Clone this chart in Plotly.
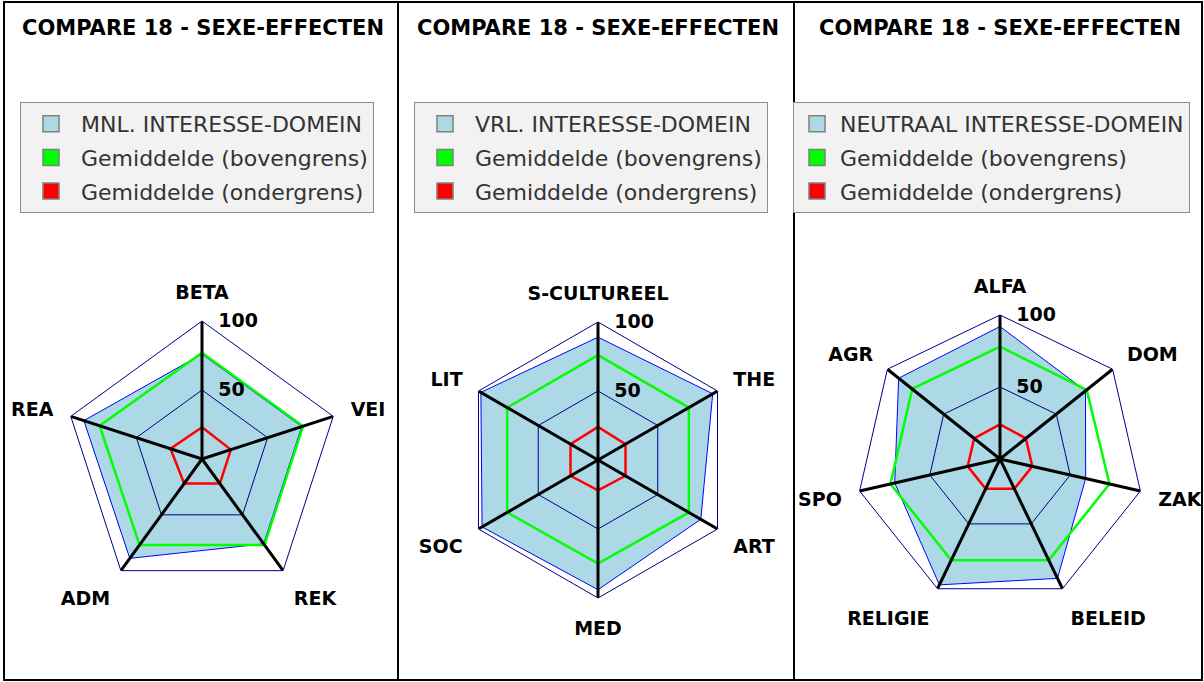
import plotly.graph_objects as go

# ---- data -------------------------------------------------------------
TITLE = "COMPARE 18 - SEXE-EFFECTEN"
UPPER_NAME = "Gemiddelde (bovengrens)"
LOWER_NAME = "Gemiddelde (ondergrens)"

mnl_axes  = ["BETA", "VEI", "REK", "ADM", "REA"]
mnl_score = [76, 76, 76, 89, 90]
mnl_upper = [77, 77, 77, 77, 78]
mnl_lower = [23, 22, 22, 22, 24]

vrl_axes  = ["S-CULTUREEL", "THE", "ART", "MED", "SOC", "LIT"]
vrl_score = [89, 96, 86, 94, 97, 98]
vrl_upper = [76, 76, 76, 75, 76, 76]
vrl_lower = [24, 23, 23, 22, 23, 23]

neu_axes  = ["ALFA", "DOM", "ZAK", "BELEID", "RELIGIE", "SPO", "AGR"]
neu_score = [92, 76, 61, 92, 97, 75, 90]
neu_upper = [78, 77, 78, 78, 78, 78, 78]
neu_lower = [24, 23, 23, 23, 23, 23, 23]

RMAX = 100
RTICKS = [50, 100]

# ---- style ------------------------------------------------------------
W, H = 1204, 682
BLUE_FILL = "#add8e6"
BLUE = "#0000ff"
GREEN = "#00ff00"
RED = "#ff0000"
NAVY = "#000080"
BOLD = dict(family="DejaVu Sans", size=19, color="black", weight="bold")

panels = [
    dict(name="MNL. INTERESSE-DOMEIN", axes=mnl_axes, score=mnl_score, up=mnl_upper, lo=mnl_lower,
         cx=202, cy=459, r=138, leg_x=20, leg_w=50, title_x=203),
    dict(name="VRL. INTERESSE-DOMEIN", axes=vrl_axes, score=vrl_score, up=vrl_upper, lo=vrl_lower,
         cx=598, cy=460, r=138, leg_x=414, leg_w=50, title_x=598),
    dict(name="NEUTRAAL INTERESSE-DOMEIN", axes=neu_axes, score=neu_score, up=neu_upper, lo=neu_lower,
         cx=1000, cy=459, r=144, leg_x=793, leg_w=36, title_x=1000),
]


def closed(v):
    return list(v) + [v[0]]


fig = go.Figure()
layout = {}
annotations = []

for i, p in enumerate(panels, start=1):
    polar = "polar" if i == 1 else f"polar{i}"
    legend = "legend" if i == 1 else f"legend{i}"
    axes = p["axes"]

    # data polygons
    fig.add_trace(go.Scatterpolar(
        r=closed(p["score"]), theta=closed(axes), subplot=polar, mode="lines",
        fill="toself", fillcolor=BLUE_FILL, line=dict(color=BLUE, width=1),
        showlegend=False, hoverinfo="skip"))
    # 50 ring drawn over the fill
    fig.add_trace(go.Scatterpolar(
        r=[RTICKS[0]] * (len(axes) + 1), theta=closed(axes), subplot=polar, mode="lines",
        line=dict(color=NAVY, width=1), showlegend=False, hoverinfo="skip"))
    fig.add_trace(go.Scatterpolar(
        r=closed(p["up"]), theta=closed(axes), subplot=polar, mode="lines",
        line=dict(color=GREEN, width=2.5), showlegend=False, hoverinfo="skip"))
    fig.add_trace(go.Scatterpolar(
        r=closed(p["lo"]), theta=closed(axes), subplot=polar, mode="lines",
        line=dict(color=RED, width=2.5), showlegend=False, hoverinfo="skip"))
    # black spokes on top
    sr, st = [], []
    for a in axes:
        sr += [0, RMAX, None]
        st += [a, a, None]
    fig.add_trace(go.Scatterpolar(
        r=sr, theta=st, subplot=polar, mode="lines",
        line=dict(color="black", width=3), showlegend=False, hoverinfo="skip"))

    # legend entries as square swatches
    for name, col in [(p["name"], BLUE_FILL), (UPPER_NAME, GREEN), (LOWER_NAME, RED)]:
        fig.add_trace(go.Scatterpolar(
            r=[None], theta=[axes[0]], subplot=polar, mode="markers", name=name,
            legend=legend, legendgroup=f"{i}-{name}",
            marker=dict(symbol="square", size=16, color=col, line=dict(color="#808080", width=1.5))))

    cx, cy, rad = p["cx"], p["cy"], p["r"]
    layout[polar] = dict(
        domain=dict(x=[(cx - rad) / W, (cx + rad) / W], y=[(H - cy - rad) / H, (H - cy + rad) / H]),
        gridshape="linear", bgcolor="white",
        radialaxis=dict(range=[0, RMAX], tickvals=RTICKS, ticktext=[str(t) for t in RTICKS],
                        angle=90, tickangle=90, showgrid=False, showline=False,
                        ticks="outside", ticklen=12, tickcolor="rgba(0,0,0,0)", tickfont=BOLD),
        angularaxis=dict(type="category", rotation=90, direction="clockwise", showgrid=False,
                         showline=True, linecolor=NAVY, linewidth=1,
                         ticks="outside", ticklen=14, tickcolor="rgba(0,0,0,0)", tickfont=BOLD),
    )
    layout[legend] = dict(
        x=p["leg_x"] / W, y=1 - 102 / H, xanchor="left", yanchor="top",
        bgcolor="#f2f2f2", bordercolor="#8c8c8c", borderwidth=1,
        font=dict(family="DejaVu Sans", size=22, color="#333333"),
        itemwidth=p["leg_w"], tracegroupgap=2, itemclick=False, itemdoubleclick=False)

    annotations.append(dict(
        text=TITLE, x=p["title_x"] / W, y=1 - 28 / H, xref="paper", yref="paper",
        xanchor="center", yanchor="middle", showarrow=False,
        font=dict(family="DejaVu Sans", size=21, color="black", weight="bold")))

shapes = [
    dict(type="rect", xref="paper", yref="paper", x0=4 / W, x1=1202 / W, y0=2 / H, y1=680 / H,
         line=dict(color="black", width=2)),
    dict(type="line", xref="paper", yref="paper", x0=398 / W, x1=398 / W, y0=2 / H, y1=680 / H,
         line=dict(color="black", width=2)),
    dict(type="line", xref="paper", yref="paper", x0=794 / W, x1=794 / W, y0=2 / H, y1=680 / H,
         line=dict(color="black", width=2)),
]

fig.update_layout(
    width=W, height=H, margin=dict(l=0, r=0, t=0, b=0),
    paper_bgcolor="white", plot_bgcolor="white",
    annotations=annotations, shapes=shapes, **layout,
)

fig.write_html("out.html", config={"displayModeBar": False},
               post_script="document.body.style.margin='0px';")
